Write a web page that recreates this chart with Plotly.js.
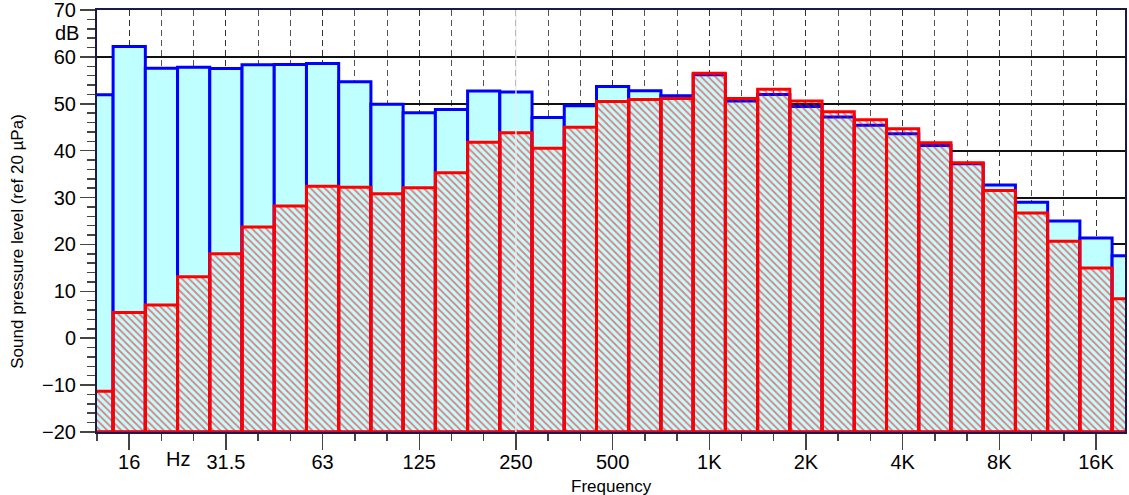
<!DOCTYPE html>
<html>
<head>
<meta charset="utf-8">
<script src="https://cdn.plot.ly/plotly-3.0.1.min.js"></script>
<style>html,body{margin:0;padding:0;background:#fff;}#chart{width:1129px;height:495px;}</style>
</head>
<body>
<div id="chart"></div>
<script>
// 1/3-octave band centre labels
const bands = ['12.5','16','20','25','31.5','40','50','63','80','100','125','160','200','250','315','400','500','630','800','1K','1.25K','1.6K','2K','2.5K','3.15K','4K','5K','6.3K','8K','10K','12.5K','16K','20K'];
// Blue (cyan-filled) series, dB
const blueLevels = [51.9,62.2,57.6,57.8,57.5,58.3,58.4,58.6,54.7,49.9,48.1,48.8,52.7,52.5,47.1,49.6,53.7,52.8,51.7,56.2,50.6,52.0,49.4,47.2,45.4,43.6,41.1,37.2,32.7,29.0,25.0,21.4,17.6];
// Red (hatched) series, dB
const redLevels = [-11.3,5.5,7.1,13.1,18.0,23.7,28.2,32.4,32.2,30.8,32.1,35.3,41.8,43.8,40.5,45.0,50.5,50.9,51.1,56.5,51.1,53.1,50.6,48.3,46.6,44.7,41.7,37.4,31.5,26.7,20.7,15.0,8.4];
// Labelled x ticks
const tickLabels = ['16','31.5','63','125','250','500','1K','2K','4K','8K','16K'];

const FLOOR = -20, TOP = 70;
const xIdx = bands.map((b,i)=>i);
const majorTickVals = tickLabels.map(l => bands.indexOf(l));

const font = 'Liberation Sans, Arial, Helvetica, sans-serif';

const blueTrace = {
  type:'bar', x:xIdx, y:blueLevels.map(v=>v-FLOOR), base:FLOOR, width:1,
  marker:{color:'#c0ffff', line:{color:'#0000ff', width:3}},
  hoverinfo:'skip', showlegend:false
};
const redTrace = {
  type:'bar', x:xIdx, y:redLevels.map(v=>v-FLOOR), base:FLOOR, width:1,
  marker:{color:'rgba(0,0,0,0)', line:{color:'#ff0000', width:3},
    pattern:{shape:'\\', fillmode:'overlay', fgcolor:'#ff0000', bgcolor:'rgba(0,0,0,0)', size:5, solidity:0.36}},
  hoverinfo:'skip', showlegend:false
};

const layout = {
  width:1129, height:495,
  margin:{l:97, r:4, t:10, b:63, pad:0},
  paper_bgcolor:'#ffffff', plot_bgcolor:'#ffffff',
  barmode:'overlay', bargap:0,
  font:{family:font, color:'#000', size:20},
  xaxis:{
    type:'linear', range:[0, 31.9], fixedrange:true,
    tickmode:'array', tickvals:majorTickVals, ticktext:tickLabels,
    ticks:'outside', ticklen:16, tickwidth:1.5, tickcolor:'#444',
    tickfont:{family:font, size:20, color:'#000'},
    ticklabelstandoff:-5, ticklabeloverflow:'allow',
    showgrid:true, gridcolor:'#333', gridwidth:1, griddash:'6px,4px',
    minor:{tickmode:'array', tickvals:xIdx, ticks:'outside', ticklen:7, tickwidth:1.5, tickcolor:'#444',
      showgrid:true, gridcolor:'#555', gridwidth:1, griddash:'6px,4px'},
    showline:true, linecolor:'#1a1a4a', linewidth:2, mirror:true,
    zeroline:false, layer:'above traces'
  },
  yaxis:{
    range:[FLOOR, TOP], fixedrange:true, dtick:10, tick0:0,
    ticks:'outside', ticklen:15, tickwidth:1.5, tickcolor:'#444',
    tickfont:{family:font, size:20, color:'#000'},
    ticklabeloverflow:'allow',
    showgrid:true, gridcolor:'#111', gridwidth:2,
    minor:{dtick:2, ticks:'outside', ticklen:8, tickwidth:1.5, tickcolor:'#444', showgrid:false},
    showline:true, linecolor:'#1a1a4a', linewidth:2, mirror:true,
    zeroline:false, layer:'above traces'
  },
  shapes:[
    {type:'line', xref:'x', yref:'paper', x0:13, x1:13, y0:0, y1:1,
     line:{color:'rgba(235,235,235,0.9)', width:1.5}, layer:'above'}
  ],
  annotations:[
    {text:'Hz', xref:'x', yref:'paper', x:2.5, y:-0.064, showarrow:false,
     xanchor:'center', yanchor:'middle', font:{family:font, size:20, color:'#000'}},
    {text:'dB', xref:'paper', yref:'y', x:-0.016, y:65, showarrow:false,
     xanchor:'right', yanchor:'middle', font:{family:font, size:20, color:'#000'}},
    {text:'Frequency', xref:'paper', yref:'paper', x:0.5, y:-0.129, showarrow:false,
     xanchor:'center', yanchor:'middle', font:{family:font, size:17, color:'#000'}},
    {text:'Sound pressure level (ref 20 µPa)', xref:'paper', yref:'paper', x:-0.0768, y:0.451,
     textangle:-90, showarrow:false, xanchor:'center', yanchor:'middle',
     font:{family:font, size:17, color:'#000'}}
  ]
};

Plotly.newPlot('chart', [blueTrace, redTrace], layout, {displayModeBar:false, staticPlot:true});
</script>
</body>
</html>
